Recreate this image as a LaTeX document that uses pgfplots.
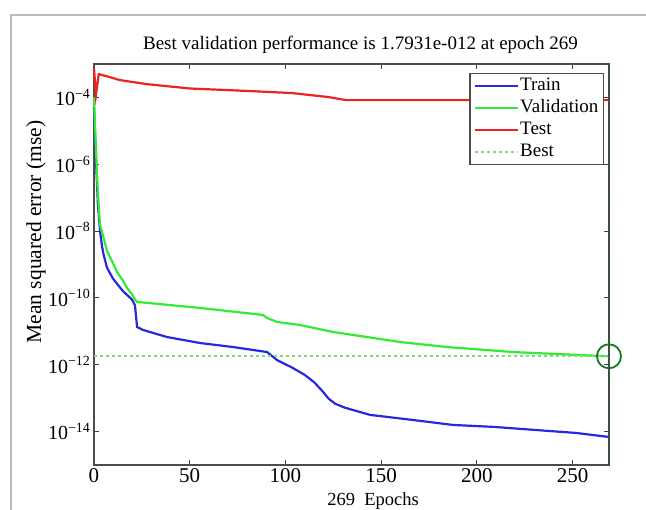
\documentclass[border=0pt]{standalone}
\usepackage{fontspec}
\setmainfont{Liberation Serif}
\usepackage{pgfplots}
\pgfplotsset{compat=1.18}
\definecolor{mblue}{RGB}{40,40,225}
\definecolor{mgreen}{RGB}{50,235,50}
\definecolor{mred}{RGB}{235,35,35}
\definecolor{bestgreen}{RGB}{130,215,130}
\definecolor{circgreen}{RGB}{20,120,30}
\definecolor{vline}{RGB}{50,80,55}

\begin{document}
\begin{tikzpicture}
\useasboundingbox (-94pt,-45pt) rectangle (552pt,465pt);
\fill[white] (-94pt,-45pt) rectangle (552pt,465pt);
\draw[gray!55, line width=1.4pt] (-83pt,-60pt) -- (-83pt,450pt) -- (580pt,450pt);
\begin{axis}[
  width=515pt, height=401pt, scale only axis,
  ymode=log,
  xmin=0, xmax=269, ymin=1e-15, ymax=1e-3,
  xtick={0,50,100,150,200,250},
  ytick={1e-14,1e-12,1e-10,1e-8,1e-6,1e-4},
  yticklabels={10\textsuperscript{−14},10\textsuperscript{−12},10\textsuperscript{−10},10\textsuperscript{−8},10\textsuperscript{−6},10\textsuperscript{−4}},
  /pgf/number format/assume math mode=true,
  xticklabel style={font=\fontsize{21}{24}\selectfont},
  yticklabel style={font=\fontsize{20}{23}\selectfont},
  tick align=inside,
  major tick length=5pt,
  tick style={black!75, line width=0.9pt},
  axis line style={black!70, line width=1.1pt},
  clip=false,
  legend style={at={(0.990,0.978)}, anchor=north east, draw=black!70, line width=1.1pt,
    font=\fontsize{19}{22}\selectfont, inner xsep=4pt, inner ysep=1.5pt, row sep=0pt,
    cells={anchor=west},
    nodes={inner xsep=1pt, inner ysep=2pt, text height=14pt, text depth=4pt}},
  legend image code/.code={\draw[#1] (0pt,0pt) -- (43pt,0pt);},
]
% Train
\addplot[mblue, line width=2.2pt] coordinates {
 (0,5e-5) (1,1.5e-6) (2,7e-8) (3.1,1.07e-8) (4.2,3.5e-9) (5,2.0e-9) (6.8,8.0e-10)
 (9.9,3.8e-10) (15.1,1.6e-10) (19.8,9.0e-11) (21.4,6.0e-11) (22.5,1.35e-11)
 (25.6,1.10e-11) (38.1,6.76e-12) (55.4,4.47e-12) (72.6,3.39e-12) (90.4,2.40e-12)
 (95.6,1.38e-12) (103,8.5e-13) (110,5.0e-13) (115,3.0e-13) (119,1.7e-13) (122.7,9.5e-14)
 (126,6.8e-14) (131,5.2e-14) (144.2,3.16e-14) (166.1,2.24e-14) (187.5,1.58e-14) (208.9,1.38e-14)
 (230.3,1.12e-14) (251.8,9.1e-15) (269,6.9e-15)
};
\addlegendentry{Train}
% Validation
\addplot[mgreen, line width=2.2pt] coordinates {
 (0,1.02e-4) (1,3.16e-6) (2,1.5e-7) (3.1,1.6e-8) (5.7,4.5e-9) (6.8,2.5e-9)
 (9.9,1.1e-9) (12,6.0e-10) (15.1,3.3e-10) (17.2,2.0e-10) (19.8,1.3e-10)
 (21.4,9.0e-11) (22.5,7.59e-11) (55.4,5.01e-11) (88.3,3.09e-11) (90.4,2.51e-11)
 (95.6,1.91e-11) (107.6,1.55e-11) (124.8,9.55e-12) (142.6,6.76e-12) (159.8,4.79e-12)
 (184.4,3.39e-12) (218.9,2.40e-12) (253.9,1.95e-12) (269,1.7931e-12)
};
\addlegendentry{Validation}
% Test
\addplot[mred, line width=2.2pt] coordinates {
 (0,7.6e-4) (1,1.17e-4) (2.5,5.0e-4) (13.6,3.3e-4) (27.5,2.5e-4) (50,1.85e-4)
 (81.5,1.55e-4) (103.4,1.35e-4) (122.7,1.02e-4) (131.6,8.3e-5) (269,8.3e-5)
};
\addlegendentry{Test}
% Best
\addplot[bestgreen, line width=1.6pt, dash pattern=on 3pt off 3pt] coordinates {
 (0,1.7931e-12) (269,1.7931e-12)
};
\addlegendentry{Best}
\addplot[vline, line width=1.1pt, dash pattern=on 2.5pt off 2pt, forget plot] coordinates {
 (269,1e-15) (269,1e-3)
};
\addplot[only marks, mark=o, mark size=12pt, circgreen, line width=1.8pt, forget plot] coordinates {
 (269,1.7931e-12)
};
\end{axis}
\node[anchor=base, font=\fontsize{19}{22}\selectfont] at (266.5pt,415pt) {Best validation performance is 1.7931e-012 at epoch 269};
\node[anchor=base, font=\fontsize{18.5}{22}\selectfont] at (279pt,-41pt) {269\ \ Epochs};
\node[rotate=90, font=\fontsize{21.5}{24}\selectfont] at (-58pt,233pt) {Mean squared error (mse)};
\end{tikzpicture}
\end{document}
